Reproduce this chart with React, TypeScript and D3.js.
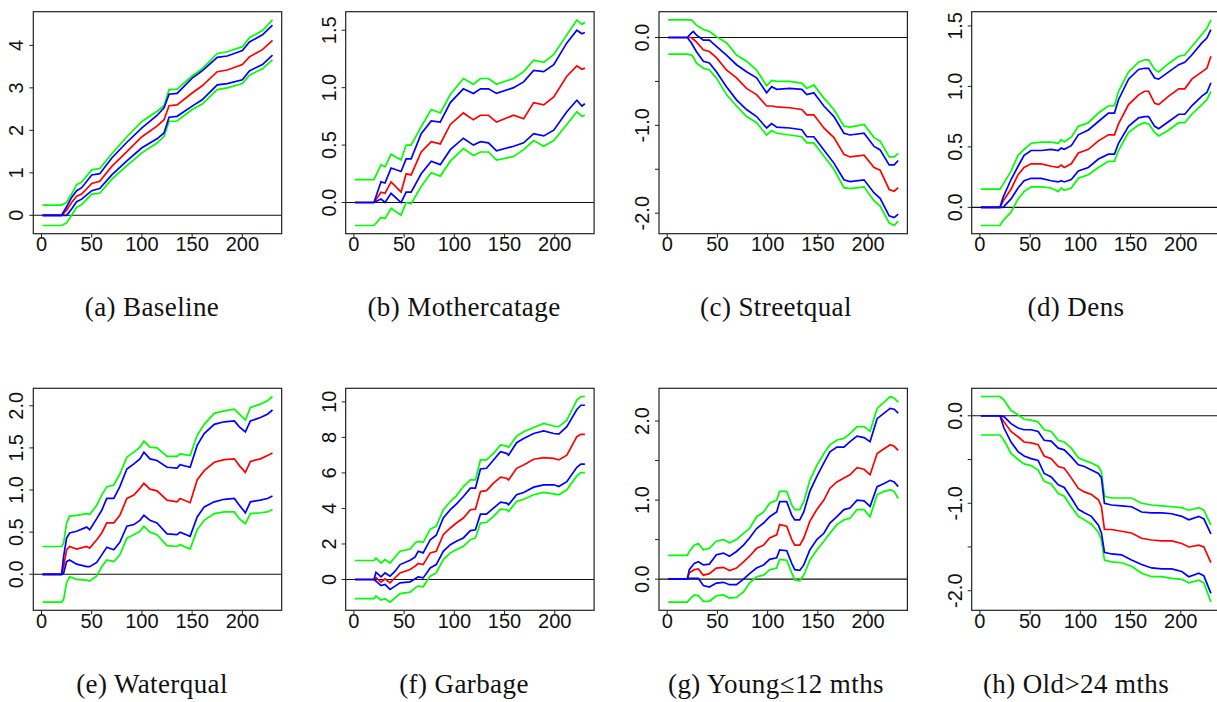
import React from "react";
import * as d3 from "d3";

// ---------- shared ----------
const xTicks = [0, 50, 100, 150, 200];

// ---------- (a) Baseline ----------
const baselineX = [1, 20, 25, 30, 35, 40, 50, 58, 70, 85, 100, 115, 122, 127, 135, 150, 160, 175, 185, 200, 207, 220, 230];
const baselineRed = [0, 0, 0.12, 0.3, 0.45, 0.5, 0.75, 0.8, 1.15, 1.5, 1.85, 2.1, 2.25, 2.58, 2.6, 2.88, 3.05, 3.38, 3.42, 3.55, 3.73, 3.9, 4.12];
const baselineBlueHi = [0, 0, 0.2, 0.42, 0.58, 0.65, 0.95, 0.98, 1.35, 1.72, 2.06, 2.35, 2.53, 2.85, 2.87, 3.23, 3.4, 3.72, 3.75, 3.88, 4.08, 4.25, 4.48];
const baselineBlueLo = [0, 0, 0, 0.15, 0.32, 0.38, 0.58, 0.63, 0.95, 1.28, 1.59, 1.8, 1.94, 2.31, 2.33, 2.57, 2.72, 3.07, 3.1, 3.19, 3.4, 3.55, 3.77];
const baselineGreenHi = [0.24, 0.24, 0.3, 0.5, 0.72, 0.78, 1.07, 1.1, 1.45, 1.85, 2.21, 2.45, 2.58, 2.96, 2.97, 3.28, 3.45, 3.81, 3.85, 3.97, 4.18, 4.35, 4.6];
const baselineGreenLo = [-0.24, -0.24, -0.18, 0, 0.19, 0.25, 0.5, 0.52, 0.85, 1.17, 1.47, 1.7, 1.86, 2.21, 2.22, 2.49, 2.62, 2.96, 3.0, 3.1, 3.3, 3.45, 3.66];
const baselineYTicks = [0, 1, 2, 3, 4];
const baselineYLabels = ["0", "1", "2", "3", "4"];

// ---------- (b) Mothercatage ----------
const motherX = [1, 20, 27, 31, 37, 47, 52, 57, 67, 77, 86, 96, 109, 119, 126, 134, 142, 159, 169, 179, 189, 199, 212, 222, 227, 230];
const motherRed = [0, 0, 0.09, 0.08, 0.18, 0.09, 0.25, 0.24, 0.44, 0.53, 0.51, 0.68, 0.78, 0.72, 0.76, 0.76, 0.7, 0.76, 0.73, 0.87, 0.85, 0.92, 1.1, 1.19, 1.16, 1.17];
const motherBlueHi = [0, 0, 0.18, 0.17, 0.3, 0.27, 0.38, 0.38, 0.6, 0.71, 0.7, 0.87, 0.99, 0.95, 0.99, 0.99, 0.95, 1.0, 1.05, 1.15, 1.14, 1.2, 1.39, 1.5, 1.47, 1.48];
const motherBlueLo = [0, 0, 0.03, 0, 0.08, 0, 0.09, 0.09, 0.25, 0.36, 0.33, 0.46, 0.56, 0.5, 0.53, 0.52, 0.45, 0.49, 0.52, 0.6, 0.58, 0.63, 0.79, 0.89, 0.84, 0.86];
const motherGreenHi = [0.2, 0.2, 0.33, 0.31, 0.42, 0.37, 0.5, 0.5, 0.66, 0.81, 0.78, 0.94, 1.08, 1.03, 1.08, 1.08, 1.03, 1.08, 1.14, 1.24, 1.22, 1.29, 1.46, 1.59, 1.55, 1.57];
const motherGreenLo = [-0.2, -0.2, -0.13, -0.14, -0.05, -0.11, 0, -0.01, 0.14, 0.26, 0.23, 0.36, 0.47, 0.41, 0.44, 0.44, 0.37, 0.4, 0.46, 0.54, 0.49, 0.54, 0.68, 0.79, 0.75, 0.76];
const motherYTicks = [0, 0.5, 1, 1.5];
const motherYLabels = ["0.0", "0.5", "1.0", "1.5"];

// ---------- (c) Streetqual ----------
const streetX = [1, 20, 24, 26, 29, 36, 42, 49, 59, 69, 79, 89, 99, 104, 109, 122, 134, 139, 146, 156, 166, 176, 182, 196, 206, 212, 221, 226, 230];
const streetRed = [0, 0, 0, -0.02, -0.05, -0.14, -0.16, -0.23, -0.37, -0.46, -0.58, -0.65, -0.78, -0.78, -0.79, -0.8, -0.82, -0.88, -0.88, -1.03, -1.14, -1.33, -1.36, -1.34, -1.48, -1.51, -1.73, -1.75, -1.71];
const streetBlueHi = [0, 0, 0.05, 0.07, 0.03, -0.03, -0.03, -0.1, -0.2, -0.31, -0.39, -0.46, -0.63, -0.56, -0.59, -0.58, -0.59, -0.65, -0.63, -0.78, -0.9, -1.09, -1.11, -1.09, -1.24, -1.28, -1.45, -1.45, -1.4];
const streetBlueLo = [0, 0, -0.06, -0.1, -0.16, -0.27, -0.29, -0.39, -0.56, -0.71, -0.82, -0.9, -1.03, -0.98, -1.02, -1.03, -1.05, -1.13, -1.13, -1.28, -1.43, -1.62, -1.64, -1.62, -1.77, -1.83, -2.03, -2.05, -2.01];
const streetGreenHi = [0.2, 0.2, 0.2, 0.18, 0.14, 0.09, 0.07, 0.01, -0.06, -0.2, -0.27, -0.37, -0.55, -0.49, -0.5, -0.5, -0.52, -0.58, -0.54, -0.69, -0.82, -1.01, -1.02, -0.99, -1.14, -1.18, -1.36, -1.36, -1.32];
const streetGreenLo = [-0.19, -0.19, -0.2, -0.22, -0.29, -0.35, -0.37, -0.46, -0.65, -0.78, -0.9, -0.97, -1.11, -1.06, -1.09, -1.11, -1.13, -1.2, -1.2, -1.35, -1.5, -1.71, -1.72, -1.7, -1.86, -1.92, -2.11, -2.14, -2.09];
const streetYTicks = [-2, -1.5, -1, -0.5, 0];
const streetYLabels = ["-2.0", "", "-1.0", "", "0.0"];

// ---------- (d) Dens ----------
const densX = [1, 20, 23, 31, 38, 44, 51, 61, 71, 78, 81, 84, 91, 98, 108, 118, 128, 134, 138, 148, 158, 164, 168, 174, 178, 188, 198, 204, 211, 221, 226, 230];
const densRed = [0, 0, 0.05, 0.15, 0.27, 0.33, 0.36, 0.36, 0.34, 0.33, 0.35, 0.33, 0.36, 0.45, 0.48, 0.55, 0.6, 0.6, 0.69, 0.85, 0.93, 0.96, 0.96, 0.86, 0.85, 0.92, 0.98, 0.98, 1.06, 1.12, 1.15, 1.25];
const densBlueHi = [0, 0, 0.08, 0.23, 0.34, 0.43, 0.47, 0.47, 0.48, 0.47, 0.49, 0.48, 0.51, 0.6, 0.64, 0.71, 0.78, 0.78, 0.89, 1.06, 1.14, 1.15, 1.15, 1.07, 1.06, 1.12, 1.18, 1.2, 1.26, 1.36, 1.4, 1.47];
const densBlueLo = [0, 0, 0, 0.07, 0.16, 0.22, 0.24, 0.24, 0.22, 0.21, 0.22, 0.21, 0.23, 0.3, 0.33, 0.4, 0.44, 0.44, 0.53, 0.67, 0.74, 0.75, 0.75, 0.67, 0.65, 0.71, 0.77, 0.77, 0.84, 0.92, 0.95, 1.03];
const densGreenHi = [0.15, 0.15, 0.19, 0.3, 0.43, 0.48, 0.53, 0.54, 0.54, 0.53, 0.56, 0.54, 0.58, 0.67, 0.7, 0.78, 0.84, 0.84, 0.96, 1.12, 1.2, 1.22, 1.22, 1.14, 1.12, 1.19, 1.25, 1.26, 1.33, 1.43, 1.48, 1.55];
const densGreenLo = [-0.15, -0.15, -0.11, -0.04, 0.07, 0.13, 0.17, 0.17, 0.16, 0.13, 0.16, 0.14, 0.16, 0.24, 0.27, 0.33, 0.38, 0.38, 0.47, 0.62, 0.68, 0.7, 0.69, 0.62, 0.59, 0.64, 0.7, 0.7, 0.77, 0.85, 0.89, 0.96];
const densYTicks = [0, 0.5, 1, 1.5];
const densYLabels = ["0.0", "0.5", "1.0", "1.5"];

// ---------- (e) Waterqual ----------
const waterX = [1, 20, 22, 25, 28, 35, 45, 48, 55, 60, 65, 72, 78, 85, 92, 98, 102, 108, 115, 125, 135, 138, 148, 155, 162, 172, 182, 192, 197, 203, 208, 218, 225, 230];
const waterRed = [0, 0, 0.09, 0.29, 0.33, 0.3, 0.33, 0.31, 0.41, 0.49, 0.61, 0.61, 0.7, 0.9, 0.94, 1.02, 1.08, 1.01, 0.99, 0.88, 0.86, 0.9, 0.85, 1.12, 1.23, 1.33, 1.36, 1.37, 1.29, 1.21, 1.34, 1.37, 1.41, 1.44];
const waterBlueHi = [0, 0, 0.21, 0.43, 0.49, 0.51, 0.56, 0.53, 0.66, 0.76, 0.9, 0.9, 1.04, 1.25, 1.31, 1.37, 1.45, 1.37, 1.35, 1.27, 1.26, 1.3, 1.27, 1.53, 1.67, 1.78, 1.81, 1.82, 1.75, 1.69, 1.82, 1.86, 1.9, 1.95];
const waterBlueLo = [0, 0, 0.01, 0.15, 0.17, 0.12, 0.09, 0.09, 0.14, 0.23, 0.32, 0.29, 0.38, 0.57, 0.59, 0.64, 0.7, 0.64, 0.61, 0.48, 0.47, 0.5, 0.45, 0.68, 0.8, 0.86, 0.89, 0.9, 0.82, 0.73, 0.86, 0.88, 0.9, 0.93];
const waterGreenHi = [0.33, 0.33, 0.37, 0.61, 0.69, 0.7, 0.72, 0.71, 0.82, 0.94, 1.04, 1.06, 1.19, 1.39, 1.45, 1.51, 1.58, 1.51, 1.5, 1.4, 1.4, 1.43, 1.41, 1.65, 1.78, 1.91, 1.94, 1.96, 1.9, 1.83, 1.98, 2.02, 2.06, 2.11];
const waterGreenLo = [-0.33, -0.33, -0.3, -0.1, -0.03, -0.06, -0.07, -0.08, -0.02, 0.09, 0.17, 0.15, 0.23, 0.43, 0.47, 0.51, 0.57, 0.5, 0.47, 0.34, 0.33, 0.35, 0.3, 0.53, 0.64, 0.72, 0.74, 0.74, 0.66, 0.6, 0.72, 0.73, 0.74, 0.77];
const waterYTicks = [0, 0.5, 1, 1.5, 2];
const waterYLabels = ["0.0", "0.5", "1.0", "1.5", "2.0"];

// ---------- (f) Garbage ----------
const garbageX = [1, 20, 22, 27, 31, 36, 41, 46, 56, 61, 64, 69, 76, 82, 89, 96, 102, 109, 116, 121, 126, 132, 139, 146, 152, 154, 162, 169, 179, 189, 199, 204, 212, 222, 226, 230];
const garbageRed = [0, 0, 0.1, -0.15, 0.04, -0.19, 0.1, 0.37, 0.56, 0.75, 0.9, 0.84, 1.5, 1.59, 2.52, 2.9, 3.18, 3.46, 3.93, 3.96, 4.95, 5.0, 5.42, 5.76, 5.7, 5.6, 6.26, 6.45, 6.77, 6.86, 6.82, 6.73, 7.0, 8.04, 8.17, 8.17];
const garbageBlueHi = [0, 0, 0.41, 0.15, 0.37, 0.19, 0.47, 0.84, 1.08, 1.27, 1.59, 1.5, 2.24, 2.49, 3.46, 3.93, 4.24, 4.67, 5.14, 5.14, 6.22, 6.26, 6.73, 7.2, 7.1, 7.0, 7.7, 7.94, 8.22, 8.36, 8.22, 8.19, 8.6, 9.57, 9.81, 9.81];
const garbageBlueLo = [0, 0, -0.09, -0.34, -0.28, -0.56, -0.37, -0.19, -0.13, 0.04, 0.15, 0.09, 0.65, 0.84, 1.59, 1.96, 2.15, 2.34, 2.75, 2.8, 3.68, 3.68, 4.02, 4.36, 4.3, 4.21, 4.77, 4.9, 5.2, 5.33, 5.33, 5.23, 5.51, 6.32, 6.5, 6.5];
const garbageGreenHi = [1.07, 1.07, 1.21, 0.93, 1.12, 0.93, 1.27, 1.59, 1.72, 2.06, 2.15, 2.09, 2.84, 2.99, 3.93, 4.39, 4.71, 5.23, 5.61, 5.61, 6.73, 6.73, 7.1, 7.57, 7.51, 7.44, 8.07, 8.32, 8.56, 8.79, 8.64, 8.6, 8.97, 10.1, 10.3, 10.3];
const garbageGreenLo = [-1.08, -1.08, -0.93, -1.16, -1.08, -1.27, -1.03, -0.79, -0.71, -0.47, -0.37, -0.41, 0.19, 0.37, 1.12, 1.5, 1.68, 1.87, 2.24, 2.34, 3.18, 3.21, 3.55, 3.96, 3.93, 3.83, 4.39, 4.52, 4.77, 4.9, 4.82, 4.77, 5.05, 5.83, 6.02, 6.02];
const garbageYTicks = [0, 2, 4, 6, 8, 10];
const garbageYLabels = ["0", "2", "4", "6", "8", "10"];

// ---------- (g) Young<=12 mths ----------
const youngX = [1, 20, 22, 27, 31, 36, 42, 49, 56, 62, 69, 76, 82, 89, 96, 102, 109, 112, 119, 124, 127, 132, 136, 142, 149, 156, 162, 169, 176, 182, 189, 196, 202, 209, 216, 222, 226, 230];
const youngRed = [0, 0, 0.08, 0.12, 0.13, 0.05, 0.07, 0.14, 0.15, 0.11, 0.14, 0.22, 0.29, 0.39, 0.43, 0.52, 0.56, 0.69, 0.67, 0.5, 0.43, 0.43, 0.52, 0.73, 0.88, 1.0, 1.15, 1.23, 1.28, 1.32, 1.41, 1.39, 1.32, 1.59, 1.65, 1.7, 1.68, 1.63];
const youngBlueHi = [0, 0, 0.12, 0.2, 0.22, 0.18, 0.19, 0.31, 0.33, 0.29, 0.35, 0.43, 0.52, 0.64, 0.71, 0.79, 0.85, 0.98, 0.98, 0.81, 0.75, 0.75, 0.85, 1.11, 1.3, 1.47, 1.61, 1.67, 1.67, 1.74, 1.81, 1.79, 1.74, 2.03, 2.1, 2.16, 2.15, 2.1];
const youngBlueLo = [0, 0, 0.01, 0.01, 0.01, -0.08, -0.1, -0.05, -0.04, -0.07, -0.07, 0, 0.07, 0.14, 0.18, 0.25, 0.27, 0.37, 0.36, 0.2, 0.12, 0.11, 0.18, 0.37, 0.5, 0.58, 0.71, 0.79, 0.88, 0.9, 1.0, 0.99, 0.92, 1.17, 1.21, 1.25, 1.23, 1.17];
const youngGreenHi = [0.3, 0.3, 0.35, 0.43, 0.45, 0.37, 0.39, 0.48, 0.5, 0.46, 0.5, 0.58, 0.64, 0.79, 0.85, 0.96, 1.0, 1.11, 1.11, 0.94, 0.88, 0.88, 0.98, 1.25, 1.44, 1.59, 1.7, 1.76, 1.78, 1.84, 1.93, 1.93, 1.87, 2.16, 2.24, 2.31, 2.29, 2.24];
const youngGreenLo = [-0.29, -0.29, -0.26, -0.2, -0.21, -0.28, -0.28, -0.21, -0.2, -0.24, -0.23, -0.16, -0.05, 0.03, 0.05, 0.12, 0.14, 0.25, 0.24, 0.08, -0.01, -0.02, 0.05, 0.24, 0.37, 0.48, 0.58, 0.69, 0.75, 0.77, 0.88, 0.88, 0.79, 1.07, 1.11, 1.13, 1.11, 1.02];
const youngYTicks = [0, 0.5, 1, 1.5, 2];
const youngYLabels = ["0.0", "", "1.0", "", "2.0"];

// ---------- (h) Old>24 mths ----------
const oldX = [1, 20, 24, 31, 38, 44, 51, 58, 64, 71, 78, 84, 91, 98, 104, 111, 118, 121, 124, 131, 141, 151, 161, 171, 181, 191, 201, 208, 218, 223, 230];
const oldRed = [0, 0, -0.07, -0.18, -0.24, -0.3, -0.31, -0.33, -0.46, -0.49, -0.58, -0.6, -0.71, -0.83, -0.87, -0.9, -0.96, -1.04, -1.3, -1.3, -1.32, -1.34, -1.4, -1.42, -1.43, -1.43, -1.46, -1.5, -1.48, -1.5, -1.68];
const oldBlueHi = [0, 0, -0.01, -0.09, -0.14, -0.16, -0.16, -0.18, -0.28, -0.29, -0.37, -0.39, -0.47, -0.56, -0.58, -0.62, -0.66, -0.71, -1.0, -1.02, -1.03, -1.04, -1.1, -1.11, -1.11, -1.12, -1.15, -1.19, -1.15, -1.18, -1.35];
const oldBlueLo = [0, 0, -0.14, -0.3, -0.41, -0.46, -0.49, -0.51, -0.66, -0.7, -0.79, -0.82, -0.94, -1.07, -1.11, -1.15, -1.25, -1.34, -1.56, -1.58, -1.59, -1.65, -1.7, -1.74, -1.75, -1.75, -1.78, -1.84, -1.8, -1.83, -2.03];
const oldGreenHi = [0.22, 0.22, 0.18, 0.06, 0.01, -0.04, -0.05, -0.07, -0.16, -0.18, -0.28, -0.3, -0.37, -0.48, -0.51, -0.54, -0.58, -0.64, -0.92, -0.94, -0.94, -0.94, -1.0, -1.02, -1.03, -1.04, -1.05, -1.08, -1.05, -1.08, -1.25];
const oldGreenLo = [-0.22, -0.22, -0.28, -0.43, -0.5, -0.55, -0.57, -0.62, -0.75, -0.78, -0.89, -0.92, -1.04, -1.15, -1.19, -1.24, -1.33, -1.42, -1.65, -1.67, -1.68, -1.72, -1.8, -1.84, -1.84, -1.86, -1.87, -1.91, -1.88, -1.91, -2.13];
const oldYTicks = [-2, -1.5, -1, -0.5, 0];
const oldYLabels = ["-2.0", "", "-1.0", "", "0.0"];

const captions = [
  "(a) Baseline",
  "(b) Mothercatage",
  "(c) Streetqual",
  "(d) Dens",
  "(e) Waterqual",
  "(f) Garbage",
  "(g) Young\u226412 mths",
  "(h) Old>24 mths",
];

type PanelDef = {
  x: number[];
  red: number[];
  blueHi: number[];
  blueLo: number[];
  greenHi: number[];
  greenLo: number[];
  yTicks: number[];
  yLabels: string[];
};

const panels: PanelDef[] = [
  { x: baselineX, red: baselineRed, blueHi: baselineBlueHi, blueLo: baselineBlueLo, greenHi: baselineGreenHi, greenLo: baselineGreenLo, yTicks: baselineYTicks, yLabels: baselineYLabels },
  { x: motherX, red: motherRed, blueHi: motherBlueHi, blueLo: motherBlueLo, greenHi: motherGreenHi, greenLo: motherGreenLo, yTicks: motherYTicks, yLabels: motherYLabels },
  { x: streetX, red: streetRed, blueHi: streetBlueHi, blueLo: streetBlueLo, greenHi: streetGreenHi, greenLo: streetGreenLo, yTicks: streetYTicks, yLabels: streetYLabels },
  { x: densX, red: densRed, blueHi: densBlueHi, blueLo: densBlueLo, greenHi: densGreenHi, greenLo: densGreenLo, yTicks: densYTicks, yLabels: densYLabels },
  { x: waterX, red: waterRed, blueHi: waterBlueHi, blueLo: waterBlueLo, greenHi: waterGreenHi, greenLo: waterGreenLo, yTicks: waterYTicks, yLabels: waterYLabels },
  { x: garbageX, red: garbageRed, blueHi: garbageBlueHi, blueLo: garbageBlueLo, greenHi: garbageGreenHi, greenLo: garbageGreenLo, yTicks: garbageYTicks, yLabels: garbageYLabels },
  { x: youngX, red: youngRed, blueHi: youngBlueHi, blueLo: youngBlueLo, greenHi: youngGreenHi, greenLo: youngGreenLo, yTicks: youngYTicks, yLabels: youngYLabels },
  { x: oldX, red: oldRed, blueHi: oldBlueHi, blueLo: oldBlueLo, greenHi: oldGreenHi, greenLo: oldGreenLo, yTicks: oldYTicks, yLabels: oldYLabels },
];

// layout
const W = 1217;
const H = 702;
const COL_LEFT = [33.3, 345.7, 659, 971.7];
const ROW_TOP = [11.7, 388.3];
const PW = 248.4;
const PH = 222;
const CAP_X = [152, 464, 776, 1076];
const CAP_Y = [316, 693];
const TICK_FONT = "'Liberation Sans', Arial, Helvetica, sans-serif";
const CAP_FONT = "'Liberation Serif', 'Times New Roman', serif";
const TICK_SIZE = 20;

function Panel({ p, left, top }: { p: PanelDef; left: number; top: number }) {
  const [x0, x1] = d3.extent(p.x) as [number, number];
  const xp = (x1 - x0) * 0.04;
  const xs = d3.scaleLinear().domain([x0 - xp, x1 + xp]).range([left, left + PW]);
  const all = [...p.red, ...p.blueHi, ...p.blueLo, ...p.greenHi, ...p.greenLo];
  const [y0, y1] = d3.extent(all) as [number, number];
  const yp = (y1 - y0) * 0.04;
  const ys = d3.scaleLinear().domain([y0 - yp, y1 + yp]).range([top + PH, top]);
  const gen = d3
    .line<number>()
    .x((_, i) => xs(p.x[i]))
    .y((d) => ys(d));
  const bottom = top + PH;
  const lw = 1.7;
  return (
    <g>
      {/* zero reference line */}
      <line x1={left} x2={left + PW} y1={ys(0)} y2={ys(0)} stroke="#111" strokeWidth={1.1} />
      <path d={gen(p.greenHi) || ""} fill="none" stroke="#00FF00" strokeWidth={lw} />
      <path d={gen(p.greenLo) || ""} fill="none" stroke="#00FF00" strokeWidth={lw} />
      <path d={gen(p.red) || ""} fill="none" stroke="#FF0000" strokeWidth={lw} />
      <path d={gen(p.blueHi) || ""} fill="none" stroke="#0000FF" strokeWidth={lw} />
      <path d={gen(p.blueLo) || ""} fill="none" stroke="#0000FF" strokeWidth={lw} />
      {/* box */}
      <rect x={left} y={top} width={PW} height={PH} fill="none" stroke="#222" strokeWidth={1.2} />
      {/* x axis */}
      {xTicks.map((t) => (
        <g key={"xt" + t}>
          <line x1={xs(t)} x2={xs(t)} y1={bottom} y2={bottom + 4} stroke="#222" strokeWidth={1} />
          <text x={xs(t)} y={bottom + 17.5} textAnchor="middle" fontFamily={TICK_FONT} fontSize={TICK_SIZE} fill="#111">
            {t}
          </text>
        </g>
      ))}
      {/* y axis */}
      {p.yTicks.map((t, i) => (
        <g key={"yt" + i}>
          <line x1={left - 4} x2={left} y1={ys(t)} y2={ys(t)} stroke="#222" strokeWidth={1} />
          {p.yLabels[i] !== "" && (
            <text
              transform={`translate(${left - 10},${ys(t)}) rotate(-90)`}
              textAnchor="middle"
              fontFamily={TICK_FONT}
              fontSize={TICK_SIZE}
              fill="#111"
            >
              {p.yLabels[i]}
            </text>
          )}
        </g>
      ))}
    </g>
  );
}

export default function App() {
  return (
    <div style={{ position: "absolute", left: 0, top: 0, width: W, height: H, background: "#fff" }}>
      <svg width={W} height={H} viewBox={`0 0 ${W} ${H}`} style={{ display: "block" }}>
        <rect x={0} y={0} width={W} height={H} fill="#fff" />
        {panels.map((p, i) => {
          const col = i % 4;
          const row = Math.floor(i / 4);
          return <Panel key={i} p={p} left={COL_LEFT[col]} top={ROW_TOP[row]} />;
        })}
        {captions.map((c, i) => {
          const col = i % 4;
          const row = Math.floor(i / 4);
          return (
            <text
              key={"cap" + i}
              x={CAP_X[col]}
              y={CAP_Y[row]}
              textAnchor="middle"
              fontFamily={CAP_FONT}
              fontSize={27}
              letterSpacing={0.4}
              fill="#111"
            >
              {c}
            </text>
          );
        })}
      </svg>
    </div>
  );
}
